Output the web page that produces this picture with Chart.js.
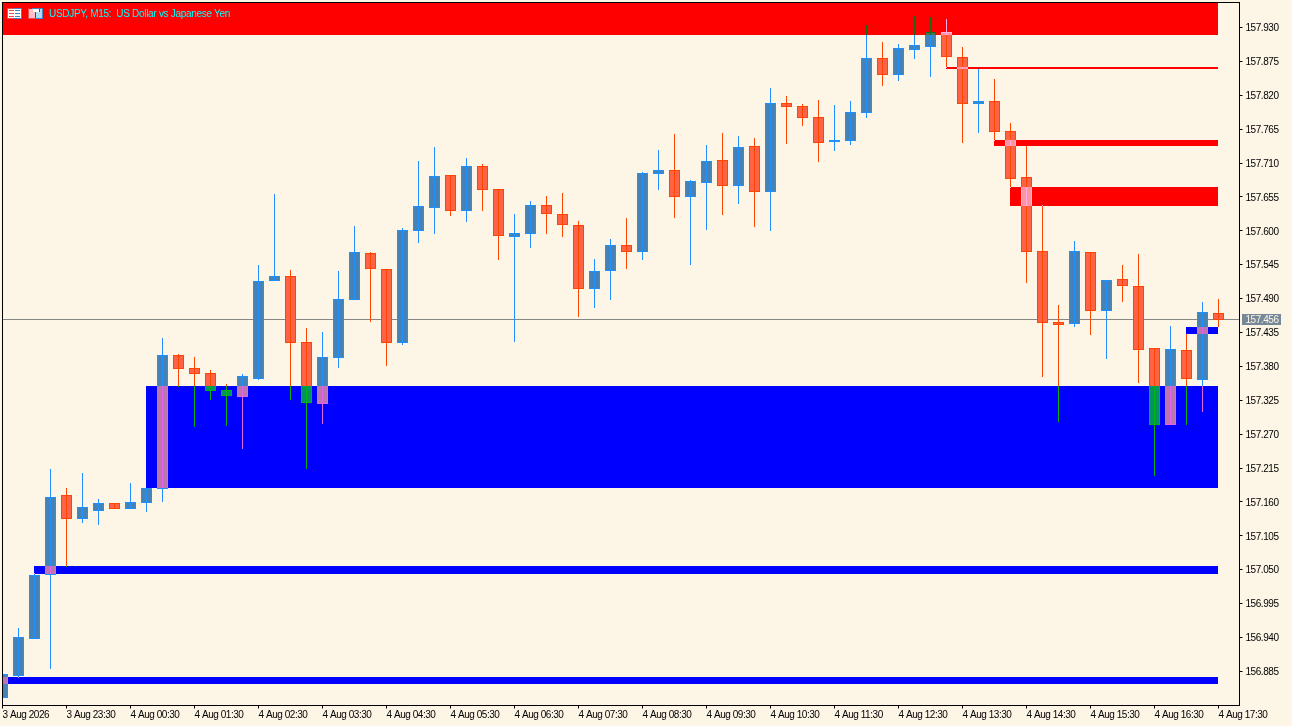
<!DOCTYPE html>
<html lang="en">
<head>
    <meta charset="UTF-8">
    <title>USDJPY, M15</title>
    <script src="https://cdn.jsdelivr.net/npm/chart.js"></script>
    <style>
        html, body { margin: 0; padding: 0; background: #fdf5e6; overflow: hidden; }
        #wrap { position: relative; width: 1292px; height: 726px; }
        #chart { position: absolute; left: 0; top: 0; }
        #title {
            position: absolute; left: 49px; top: 8px;
            font: 10px 'Liberation Sans', sans-serif;
            letter-spacing: -0.3px; color: #00ffff; white-space: nowrap;
        }
    </style>
</head>
<body>
<div id="wrap">
    <canvas id="chart" width="1292" height="726"></canvas>
    <div id="title">USDJPY, M15:&nbsp; US Dollar vs Japanese Yen</div>
</div>
<script>
    // candles, 15 minute bars from 3 Aug 22:30
    const opens = [
        156.842, 156.878, 156.938, 157.042, 157.172, 157.133, 157.146, 157.159, 157.149, 157.159,
        157.181, 157.399, 157.378, 157.370, 157.342, 157.331, 157.360, 157.519, 157.527, 157.420,
        157.319, 157.394, 157.488, 157.564, 157.538, 157.418, 157.600, 157.637, 157.691, 157.632,
        157.705, 157.668, 157.590, 157.595, 157.642, 157.627, 157.610, 157.506, 157.535, 157.577,
        157.566, 157.692, 157.699, 157.655, 157.678, 157.715, 157.673, 157.738, 157.663, 157.808,
        157.803, 157.785, 157.744, 157.746, 157.791, 157.881, 157.853, 157.894, 157.898, 157.923,
        157.882, 157.806, 157.811, 157.762, 157.687, 157.567, 157.452, 157.449, 157.566, 157.470,
        157.522, 157.511, 157.410, 157.285, 157.407, 157.358, 157.467
    ];
    const highs = [
        156.880, 156.956, 157.045, 157.214, 157.183, 157.207, 157.164, 157.159, 157.190, 157.183,
        157.426, 157.400, 157.395, 157.374, 157.352, 157.368, 157.545, 157.660, 157.537, 157.442,
        157.436, 157.535, 157.608, 157.566, 157.538, 157.605, 157.713, 157.736, 157.691, 157.718,
        157.708, 157.668, 157.627, 157.648, 157.657, 157.661, 157.616, 157.554, 157.587, 157.621,
        157.695, 157.731, 157.757, 157.683, 157.739, 157.759, 157.754, 157.751, 157.832, 157.819,
        157.806, 157.812, 157.804, 157.811, 157.934, 157.906, 157.903, 157.949, 157.947, 157.944,
        157.898, 157.863, 157.846, 157.775, 157.738, 157.642, 157.480, 157.584, 157.566, 157.520,
        157.545, 157.563, 157.410, 157.446, 157.433, 157.485, 157.490
    ];
    const lows = [
        156.842, 156.875, 156.938, 156.889, 157.055, 157.126, 157.123, 157.149, 157.149, 157.144,
        157.160, 157.347, 157.282, 157.326, 157.284, 157.246, 157.358, 157.519, 157.326, 157.214,
        157.287, 157.378, 157.488, 157.452, 157.381, 157.415, 157.580, 157.595, 157.624, 157.614,
        157.632, 157.553, 157.420, 157.572, 157.595, 157.590, 157.460, 157.475, 157.488, 157.538,
        157.553, 157.666, 157.621, 157.545, 157.601, 157.626, 157.644, 157.606, 157.600, 157.741,
        157.770, 157.712, 157.730, 157.739, 157.783, 157.835, 157.843, 157.879, 157.850, 157.864,
        157.743, 157.759, 157.746, 157.670, 157.516, 157.363, 157.290, 157.444, 157.431, 157.392,
        157.485, 157.353, 157.202, 157.285, 157.285, 157.306, 157.444
    ];
    const closes = [
        156.880, 156.940, 157.042, 157.168, 157.133, 157.151, 157.159, 157.149, 157.160, 157.183,
        157.399, 157.376, 157.368, 157.340, 157.332, 157.365, 157.519, 157.527, 157.418, 157.321,
        157.395, 157.490, 157.566, 157.538, 157.418, 157.601, 157.640, 157.689, 157.632, 157.705,
        157.666, 157.592, 157.597, 157.642, 157.627, 157.610, 157.506, 157.535, 157.577, 157.566,
        157.694, 157.699, 157.655, 157.681, 157.713, 157.673, 157.736, 157.663, 157.808, 157.801,
        157.783, 157.743, 157.747, 157.793, 157.881, 157.853, 157.897, 157.902, 157.923, 157.882,
        157.806, 157.811, 157.761, 157.684, 157.566, 157.451, 157.447, 157.567, 157.470, 157.520,
        157.511, 157.407, 157.285, 157.408, 157.360, 157.468, 157.456
    ];
    const candleIndex = opens.map((_, i) => i);

    const lastPrice = 157.456;
    const priceTicks = [
        157.930, 157.875, 157.820, 157.765, 157.710, 157.655, 157.600, 157.545, 157.490, 157.435,
        157.380, 157.325, 157.270, 157.215, 157.160, 157.105, 157.050, 156.995, 156.940, 156.885
    ];
    const timeTicks = [0, 4, 8, 12, 16, 20, 24, 28, 32, 36, 40, 44, 48, 52, 56, 60, 64, 68, 72, 76];
    const timeLabels = [
        '3 Aug 2026', '3 Aug 23:30', '4 Aug 00:30', '4 Aug 01:30', '4 Aug 02:30',
        '4 Aug 03:30', '4 Aug 04:30', '4 Aug 05:30', '4 Aug 06:30', '4 Aug 07:30',
        '4 Aug 08:30', '4 Aug 09:30', '4 Aug 10:30', '4 Aug 11:30', '4 Aug 12:30',
        '4 Aug 13:30', '4 Aug 14:30', '4 Aug 15:30', '4 Aug 16:30', '4 Aug 17:30'
    ];

    // supply / demand zones, they all run up to the last candle
    const blueStart = [-1, 2, 9, 74];
    const blueHigh = [156.8763, 157.0564, 157.3484, 157.4441];
    const blueLow = [156.8650, 157.0434, 157.1830, 157.4328];
    const redStart = [-1, 59, 62, 63];
    const redHigh = [158.0, 157.8659, 157.7475, 157.6712];
    const redLow = [157.9178, 157.8627, 157.7377, 157.6404];

    const BG = [0xfd, 0xf5, 0xe6];
    const AXIS_FONT = { family: "'Liberation Sans', sans-serif", size: 10 };
    const isUp = i => closes[i] > opens[i];

    // the terminal draws its objects by xor against the background
    function xorZone(chart, start, high, low, rgb) {
        const { ctx, chartArea: a, scales: { x, y } } = chart;
        const x0 = Math.max(Math.floor(x.getPixelForValue(start)), Math.ceil(a.left));
        const x1 = Math.floor(x.getPixelForValue(candleIndex.length - 1));
        const y0 = Math.max(Math.round(y.getPixelForValue(high)), Math.ceil(a.top));
        const y1 = Math.round(y.getPixelForValue(low));
        const img = ctx.getImageData(x0, y0, x1 - x0, y1 - y0);
        const mask = rgb.map((c, k) => c ^ BG[k]);
        for (let i = 0; i < img.data.length; i += 4) {
            img.data[i] ^= mask[0];
            img.data[i + 1] ^= mask[1];
            img.data[i + 2] ^= mask[2];
        }
        ctx.putImageData(img, x0, y0);
    }

    function drawIcons(ctx) {
        // table icon
        ctx.fillStyle = '#ffffff';
        ctx.fillRect(8, 8, 14, 11);
        ctx.fillStyle = '#ef4b4b';
        ctx.fillRect(7, 8, 1, 11);
        ctx.fillRect(8, 8, 6, 1);
        ctx.fillRect(8, 18, 6, 1);
        for (const r of [10, 13, 16]) ctx.fillRect(9, r, 5, 1);
        ctx.fillStyle = '#3f86c0';
        ctx.fillRect(14, 8, 8, 1);
        ctx.fillRect(14, 18, 8, 1);
        ctx.fillRect(21, 8, 1, 11);
        for (const r of [10, 13, 16]) ctx.fillRect(15, r, 5, 1);
        // disk icon
        ctx.fillStyle = '#ffc0cb';
        ctx.fillRect(29, 9, 6, 9);
        ctx.fillStyle = '#ffffff';
        ctx.fillRect(33, 8, 6, 4);
        ctx.fillStyle = '#b3dcf7';
        ctx.fillRect(36, 12, 6, 6);
        ctx.fillRect(40, 9, 2, 4);
        ctx.fillStyle = '#3f86c0';
        ctx.fillRect(42, 8, 1, 11);
        ctx.fillRect(35, 18, 8, 1);
        ctx.fillRect(32, 8, 10, 1);
        ctx.fillStyle = '#ef4b4b';
        ctx.fillRect(28, 8, 1, 11);
        ctx.fillRect(29, 18, 6, 1);
    }

    const terminalLook = {
        id: 'terminalLook',
        beforeDraw(chart) {
            const { ctx, width, height } = chart;
            ctx.fillStyle = '#fdf5e6';
            ctx.fillRect(0, 0, width, height);
            // tighter text, closer to the terminal's small bitmap font
            ctx.letterSpacing = '-0.45px';
        },
        afterDatasetsUpdate(chart) {
            // snap bars to whole pixels, like the terminal does
            chart.data.datasets.forEach((_, d) => {
                chart.getDatasetMeta(d).data.forEach(el => {
                    el.y = Math.round(el.y);
                    el.base = Math.round(el.base);
                });
            });
        },
        beforeDatasetsDraw(chart) {
            const { ctx, chartArea: a, scales: { y } } = chart;
            const py = Math.floor(y.getPixelForValue(lastPrice));
            ctx.save();
            ctx.fillStyle = '#868686';
            ctx.fillRect(a.left, py, a.right - a.left, 1);
            ctx.restore();
        },
        afterDatasetsDraw(chart) {
            blueStart.forEach((s, i) => xorZone(chart, s, blueHigh[i], blueLow[i], [0, 0, 255]));
            redStart.forEach((s, i) => xorZone(chart, s, redHigh[i], redLow[i], [255, 0, 0]));
        },
        afterDraw(chart) {
            const { ctx, chartArea: a, scales: { y } } = chart;
            ctx.save();
            ctx.strokeStyle = '#000000';
            ctx.lineWidth = 1;
            ctx.strokeRect(a.left, a.top, a.right - a.left, a.bottom - a.top);
            // price tag on the axis
            const py = Math.floor(y.getPixelForValue(lastPrice));
            ctx.fillStyle = '#778899';
            ctx.fillRect(a.right + 2.5, py - 5, 39, 11);
            ctx.fillStyle = '#fdf5e6';
            ctx.font = "10px 'Liberation Sans', sans-serif";
            ctx.textBaseline = 'middle';
            ctx.fillText(lastPrice.toFixed(3), a.right + 6, py + 1);
            drawIcons(ctx);
            ctx.restore();
        }
    };

    new Chart(document.getElementById('chart'), {
        type: 'bar',
        data: {
            datasets: [
                {
                    label: 'wicks',
                    data: candleIndex.map(i => ({ x: i, y: [lows[i], highs[i]] })),
                    backgroundColor: candleIndex.map(i => isUp(i) ? '#1e90ff' : '#ff4500'),
                    borderWidth: 0,
                    barThickness: 1,
                    grouped: false,
                    inflateAmount: 0
                },
                {
                    label: 'bodies',
                    data: candleIndex.map(i => ({ x: i, y: [opens[i], closes[i]] })),
                    backgroundColor: candleIndex.map(i => isUp(i) ? '#4682b4' : '#ff6347'),
                    borderColor: candleIndex.map(i => isUp(i) ? '#1e90ff' : '#ff4500'),
                    borderWidth: 1,
                    borderSkipped: false,
                    barThickness: 11,
                    grouped: false,
                    inflateAmount: 0
                }
            ]
        },
        plugins: [terminalLook],
        options: {
            responsive: false,
            devicePixelRatio: 1,
            animation: false,
            events: [],
            layout: { padding: { left: 2.5, top: 2.5, right: 0, bottom: 0 } },
            plugins: { legend: { display: false }, tooltip: { enabled: false } },
            scales: {
                x: {
                    type: 'linear',
                    offset: false,
                    min: 0,
                    max: 77.3125,
                    afterFit: s => { s.height = 20.5; s.paddingLeft = 0; s.paddingRight = 0; },
                    afterBuildTicks: s => { s.ticks = timeTicks.map(v => ({ value: v })); },
                    border: { display: false },
                    grid: { offset: false, drawOnChartArea: false, color: '#000000', tickLength: 3 },
                    ticks: {
                        autoSkip: false,
                        maxRotation: 0,
                        minRotation: 0,
                        align: 'start',
                        padding: 1,
                        color: '#000000',
                        font: AXIS_FONT,
                        callback: (v, i) => timeLabels[i]
                    }
                },
                y: {
                    position: 'right',
                    min: 156.8296,
                    max: 157.9706,
                    afterFit: s => { s.width = 52.5; s.paddingTop = 0; s.paddingBottom = 0; },
                    afterBuildTicks: s => { s.ticks = priceTicks.map(v => ({ value: v })); },
                    border: { display: false },
                    grid: { drawOnChartArea: false, color: '#000000', tickLength: 3 },
                    ticks: {
                        autoSkip: false,
                        padding: 3,
                        labelOffset: 1,
                        color: '#000000',
                        font: AXIS_FONT,
                        callback: v => v.toFixed(3)
                    }
                }
            }
        }
    });
</script>
</body>
</html>
